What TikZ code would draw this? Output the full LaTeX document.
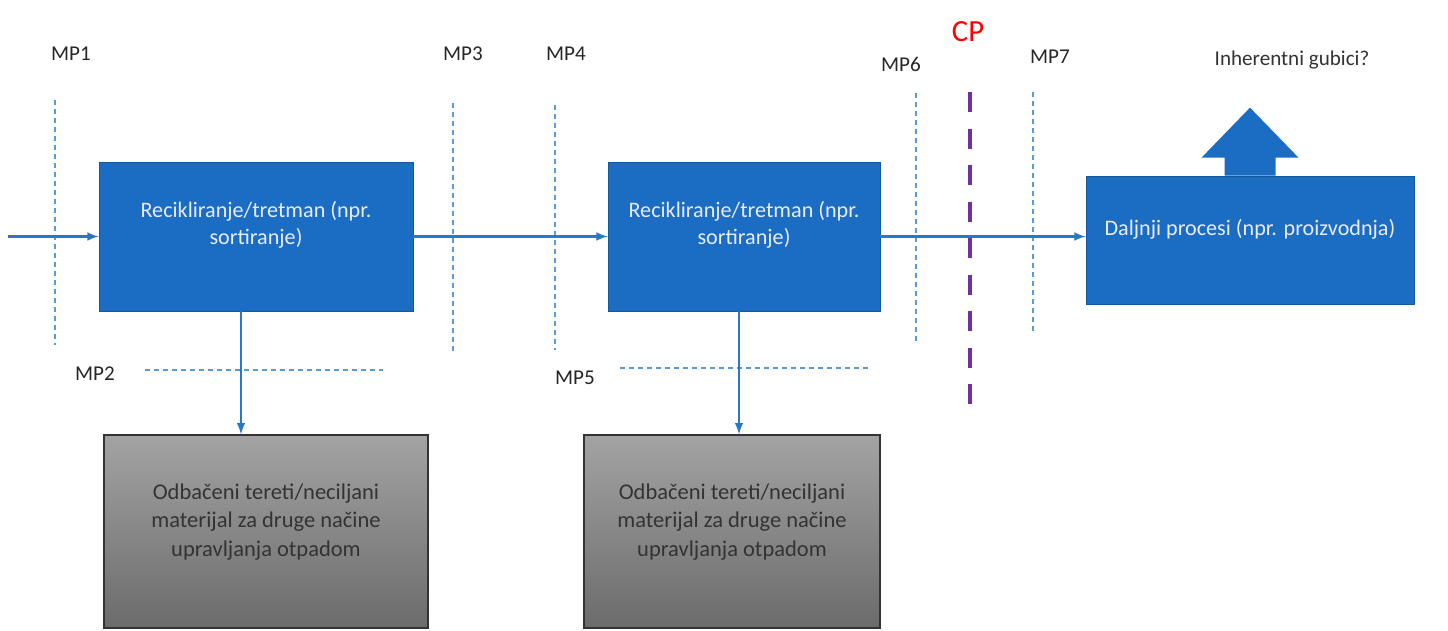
\documentclass[tikz,border=0pt]{standalone}
\usepackage{fontspec}
\setmainfont{Carlito}
\usepackage{tikz}
\usetikzlibrary{positioning}
\usepackage{xcolor}
\definecolor{boxblue}{RGB}{26,109,195}
\definecolor{flowblue}{RGB}{38,120,205}
\definecolor{mpblue}{RGB}{91,155,213}
\definecolor{cppurple}{RGB}{112,48,160}

\begin{document}
\begin{tikzpicture} [
		>=latex,
		every node/.style={font=\fontsize{12}{15}\selectfont},
		block/.style    = { rectangle, fill=boxblue, draw=boxblue!80!black,
			inner sep=0pt },
		reject/.style   = { rectangle, draw=black!80, thick,
			top color=black!36, bottom color=black!58, inner sep=0pt },
		btext/.style    = { text=white!92!blue, align=center, font=\fontsize{12.6}{15.4}\selectfont },
		gtext/.style    = { text=black!80, align=center, font=\fontsize{12.8}{16}\selectfont },
		mplabel/.style  = { text=black!85 },
		line/.style     = { draw=flowblue, line width=1.2pt, ->, shorten >=0pt },
		mpline/.style   = { draw=mpblue, thick, dash pattern=on 0.1cm off 0.08cm },
		cpline/.style   = { draw=cppurple, line width=2.8pt, dash pattern=on 0.4cm off 0.33cm },
		]
		\useasboundingbox (0,0) rectangle (28.96,12.6);
		% process boxes
		\node [block, minimum width=6.28cm, minimum height=2.98cm] (r1) at (5.12,7.87) {};
		\node [block, minimum width=5.44cm, minimum height=2.98cm] (r2) at (14.88,7.87) {};
		\node [block, minimum width=6.56cm, minimum height=2.56cm] (d) at (25.0,7.80) {};
		\node [btext] (r1t) at ([yshift=0.23cm] r1.center) {Recikliranje/tretman (npr.\\ sortiranje)};
		\node [btext] (r2t) at ([yshift=0.23cm] r2.center) {Recikliranje/tretman (npr.\\ sortiranje)};
		\node [btext] (dt) at ([yshift=0.22cm] d.center) {Daljnji procesi (npr. proizvodnja)};
		% rejected material
		\node [reject, minimum width=6.48cm, minimum height=3.86cm] (g1) at (5.32,1.97) {};
		\node [reject, minimum width=5.92cm, minimum height=3.86cm] (g2) at (14.64,1.97) {};
		\node [gtext] (g1t) at ([yshift=0.19cm] g1.center) {Odbačeni tereti/neciljani\\ materijal za druge načine\\ upravljanja otpadom};
		\node [gtext] (g2t) at ([yshift=0.19cm] g2.center) {Odbačeni tereti/neciljani\\ materijal za druge načine\\ upravljanja otpadom};
		% losses arrow
		\fill [boxblue] ([xshift=-0.51cm] d.north) -- ++(0,0.36) -- ++(-0.46,0)
			-- ([yshift=1.36cm] d.north) -- ([xshift=0.97cm, yshift=0.36cm] d.north)
			-- ++(-0.46,0) -- ([xshift=0.51cm] d.north) -- cycle;
		\node [text=black!80] (loss) at (25.84,11.4) {Inherentni gubici?};
		% measuring points
		\node [mplabel] (mp1) at (1.42,11.52) {MP1};
		\node [mplabel] (mp3) at (9.26,11.52) {MP3};
		\node [mplabel] (mp4) at (11.32,11.52) {MP4};
		\node [mplabel] (mp6) at (18.02,11.32) {MP6};
		\node [mplabel] (mp7) at (21.0,11.46) {MP7};
		\node [mplabel] (mp2) at (1.9,5.12) {MP2};
		\node [mplabel] (mp5) at (11.5,5.04) {MP5};
		\node [text=red, font=\fontsize{17.5}{20}\selectfont] (cp) at (19.36,11.96) {CP};
		\path [mpline] (1.1,10.6) -- (1.1,5.7);
		\path [mpline] (9.06,10.54) -- (9.06,5.56);
		\path [mpline] (11.1,10.5) -- (11.1,5.6);
		\path [mpline] (18.32,10.74) -- (18.32,5.74);
		\path [mpline] (20.66,10.76) -- (20.66,5.9);
		\path [mpline] (2.9,5.2) -- (7.66,5.2);
		\path [mpline] (12.4,5.24) -- (17.44,5.24);
		\path [cpline] (19.4,10.76) -- (19.4,4.28);
		% flows
		\coordinate (in) at (0.16,7.87);
		\begin{scope} [every path/.style=line]
		\path (in) -- (r1.west);
		\path (r1.east) -- (r2.west);
		\path (r2.east) -- (r2.east -| d.west);
		\path ([xshift=-0.3cm] r1.south) -- ([xshift=-0.3cm] r1.south |- g1.north);
		\path ([xshift=-0.1cm] r2.south) -- ([xshift=-0.1cm] r2.south |- g2.north);
		\end{scope}
		\end{tikzpicture}
\end{document}
